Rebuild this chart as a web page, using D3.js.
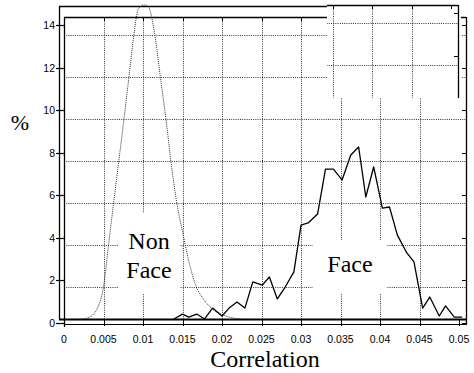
<!DOCTYPE html>
<html><head><meta charset="utf-8">
<script src="https://cdn.jsdelivr.net/npm/d3@7"></script>
<style>body{margin:0;background:#fff}svg{display:block}</style>
</head><body><svg id="c" width="474" height="373"></svg>
<script>
// ---- data ----
const xTicks = [0,0.005,0.01,0.015,0.02,0.025,0.03,0.035,0.04,0.045,0.05];
const xTickLabels = ["0","0.005","0.01","0.015","0.02","0.025","0.03","0.035","0.04","0.045","0.05"];
const yTicks = [0,2,4,6,8,10,12,14];
const yTickLabels = ["0","2","4","6","8","10","12","14"];
const gridVals = [2,4,6,8,10,12,14];

const faceX = [0.0139,0.0150,0.0158,0.0168,0.0178,0.0188,0.0200,0.0209,0.0219,0.0229,0.0239,0.0251,0.0260,0.0270,0.0280,0.0291,0.0300,0.0309,0.0321,0.0331,0.0341,0.0352,0.0363,0.0373,0.0382,0.0392,0.0403,0.0412,0.0422,0.0434,0.0443,0.0454,0.0463,0.0475,0.0483,0.0494,0.0504];
const faceY = [0.19,0.42,0.28,0.42,0.19,0.70,0.33,0.70,0.99,0.70,1.93,1.78,2.16,1.13,1.69,2.40,4.60,4.70,5.12,7.23,7.23,6.72,7.89,8.27,5.92,7.33,5.40,5.45,4.13,3.29,2.87,0.70,1.22,0.33,0.80,0.28,0.28];

const nonFaceX = [0.0020,0.0029,0.0037,0.0043,0.0050,0.0056,0.0063,0.0070,0.0076,0.0082,0.0088,0.0094,0.0101,0.0106,0.0115,0.0122,0.0130,0.0136,0.0143,0.0150,0.0158,0.0167,0.0177,0.0186,0.0207,0.0225];
const nonFaceY = [0.19,0.23,0.40,0.75,1.69,3.55,5.70,7.80,9.60,11.50,13.40,14.75,14.94,14.90,13.53,11.55,9.30,7.40,5.60,4.30,2.90,1.75,1.10,0.72,0.30,0.19];

// ---- layout ----
const SANS = "'Liberation Sans', Arial, Helvetica, sans-serif";
const SERIF = "'Liberation Serif', 'Times New Roman', Times, 'DejaVu Serif', serif";
const svg = d3.select("#c");
const x = d3.scaleLinear().domain([0,0.05]).range([64,459]);
const y = d3.scaleLinear().domain([0,14]).range([323,25]);
const yGrid = d3.scaleLinear().domain([0,14]).range([329,35]); // scanned grid layer is offset
const L = 64, R = 466, T = 17, B = 324, BASE = 319;

const defs = svg.append("defs");
defs.append("clipPath").attr("id","mainClip").append("path")
  .attr("d","M0,0H474V373H0Z M327,0V98H461V0Z").attr("clip-rule","evenodd");
defs.append("clipPath").attr("id","patchClip").append("rect")
  .attr("x",327).attr("y",0).attr("width",134).attr("height",98);

function drawBack(g){
  const grid = g.append("g").attr("stroke","#333").attr("stroke-width",1)
    .attr("stroke-dasharray","1,1.2").attr("fill","none");
  grid.selectAll(".hg").data(gridVals).join("line")
    .attr("x1",L).attr("x2",R).attr("y1",d=>Math.round(yGrid(d))+0.5).attr("y2",d=>Math.round(yGrid(d))+0.5);
  grid.selectAll(".vg").data(xTicks.slice(1,-1)).join("line")
    .attr("y1",T).attr("y2",BASE).attr("x1",d=>Math.round(x(d))+0.5).attr("x2",d=>Math.round(x(d))+0.5);
  const fr = g.append("g").attr("stroke","#000").attr("fill","none");
  fr.append("line").attr("x1",L).attr("x2",R).attr("y1",T+0.5).attr("y2",T+0.5).attr("stroke-width",1.3);
  fr.append("line").attr("x1",R+0.5).attr("x2",R+0.5).attr("y1",T).attr("y2",B).attr("stroke-width",1.3);
  fr.append("line").attr("x1",L+0.5).attr("x2",L+0.5).attr("y1",T).attr("y2",B+3).attr("stroke-width",1.3);
  fr.selectAll(".tt").data(xTicks).join("line")
    .attr("x1",d=>Math.round(x(d))+0.5).attr("x2",d=>Math.round(x(d))+0.5).attr("y1",T).attr("y2",T+4);
  fr.selectAll(".bt").data(xTicks).join("line")
    .attr("x1",d=>Math.round(x(d))+0.5).attr("x2",d=>Math.round(x(d))+0.5).attr("y1",BASE).attr("y2",B+2);
  fr.selectAll(".rt").data(yTicks).join("line")
    .attr("x1",R-4).attr("x2",R).attr("y1",d=>Math.round(y(d))+0.5).attr("y2",d=>Math.round(y(d))+0.5);
}

const main = svg.append("g").attr("clip-path","url(#mainClip)");
drawBack(main);
const patch = svg.append("g").attr("clip-path","url(#patchClip)")
  .append("g").attr("transform","translate(-8,-12)");
drawBack(patch);

// outer axis lines (scan layer)
const outer = svg.append("g").attr("stroke","#000").attr("fill","none");
outer.append("line").attr("x1",59).attr("x2",327).attr("y1",6.5).attr("y2",6.5).attr("stroke-width",1.3);
outer.append("line").attr("x1",59.5).attr("x2",59.5).attr("y1",6).attr("y2",BASE).attr("stroke-width",1.3);
outer.append("line").attr("x1",59).attr("x2",R+1).attr("y1",BASE+0.5).attr("y2",BASE+0.5).attr("stroke-width",2);
outer.append("line").attr("x1",L).attr("x2",R+1).attr("y1",B+0.5).attr("y2",B+0.5).attr("stroke-width",1);
outer.selectAll(".lt").data(yTicks).join("line")
  .attr("x1",56).attr("x2",L).attr("y1",d=>Math.round(y(d))+0.5).attr("y2",d=>Math.round(y(d))+0.5).attr("stroke-width",1.2);

// text backgrounds (white boxes of the annotations)
svg.append("rect").attr("x",118).attr("y",213).attr("width",62).attr("height",80).attr("fill","#fff");
svg.append("rect").attr("x",313).attr("y",240).attr("width",74).attr("height",53).attr("fill","#fff");

// curves
svg.append("path").datum(nonFaceX.map((v,i)=>[v,nonFaceY[i]]))
  .attr("d",d3.line().x(d=>x(d[0])).y(d=>y(d[1])).curve(d3.curveMonotoneX)).attr("fill","none")
  .attr("stroke","#333").attr("stroke-width",1).attr("stroke-dasharray","1,1");
svg.append("path").datum(faceX.map((v,i)=>[v,faceY[i]]))
  .attr("d",d3.line().x(d=>x(d[0])).y(d=>y(d[1]))).attr("fill","none")
  .attr("stroke","#000").attr("stroke-width",1.3).attr("stroke-linejoin","round");

// tick labels
svg.append("g").selectAll("text").data(yTicks).join("text")
  .style("font-family",SANS).style("font-size","10.5px")
  .attr("x",55).attr("y",d=>y(d)+4).attr("text-anchor","end")
  .text((d,i)=>yTickLabels[i]);
svg.append("g").selectAll("text").data(xTicks).join("text")
  .style("font-family",SANS).style("font-size","10.5px")
  .attr("x",d=>x(d)).attr("y",343).attr("text-anchor","middle")
  .text((d,i)=>xTickLabels[i]);

const tg = svg.append("g");
const lab = (tx,ty,fs,s)=>tg.append("text").style("font-family",SERIF).style("font-size",fs+"px")
  .attr("x",tx).attr("y",ty).attr("text-anchor","middle").text(s);
lab(20,130,22,"%");
lab(265,367,24,"Correlation");
lab(149,249,24,"Non");
lab(149,278,24,"Face");
lab(350,272,24,"Face");
</script></body></html>
